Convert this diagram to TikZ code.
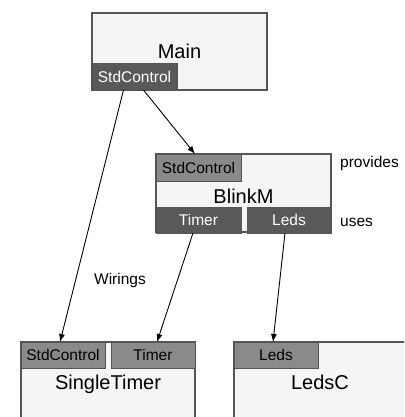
\documentclass[tikz,border=0pt]{standalone}
\usepackage{fontspec}
\setmainfont{Liberation Sans}
\usetikzlibrary{arrows.meta,calc}
\definecolor{boxfill}{HTML}{F5F5F5}
\definecolor{boxline}{HTML}{555555}
\definecolor{darktab}{HTML}{595959}
\definecolor{midtab}{HTML}{8A8A8A}
\begin{document}
\begin{tikzpicture}[x=1pt,y=-1pt,
  comp/.style={draw=boxline,fill=boxfill,line width=1.2pt,rectangle,inner sep=0pt,outer sep=0pt,anchor=north west},
  tabbase/.style={draw=boxline,line width=1pt,inner sep=0pt,outer sep=0pt,anchor=north west,
    minimum width=85pt,minimum height=26pt,text height=11pt,text depth=0pt,font=\fontsize{15.5}{16}\selectfont},
  tabd/.style={tabbase,fill=darktab,text=white},
  tabm/.style={tabbase,fill=midtab,text=black},
  big/.style={anchor=base,inner sep=0pt,font=\fontsize{20}{22}\selectfont},
  small/.style={anchor=base west,inner sep=0pt,font=\fontsize{15.5}{16}\selectfont},
  wire/.style={draw=black,line width=0.9pt,-{Latex[length=8pt,width=6pt]}}
]
\useasboundingbox (0,0) rectangle (404,417);
\clip (0,0) rectangle (404,417);
% Main
\node[comp,minimum width=175pt,minimum height=77pt] (main) at (92,13) {};
\node[tabd] (mainsc) at (92,64) {StdControl};
\node[big] (mainlbl) at (179.5,59) {Main};
% BlinkM
\node[comp,minimum width=175pt,minimum height=78pt] (blink) at (156,154) {};
\node[tabm,minimum height=27pt] (blsc) at (156,154) {StdControl};
\node[tabd] (bltimer) at (156,207) {Timer};
\node[tabd,minimum width=84pt] (blleds) at (247,207) {Leds};
\node[big] (blinklbl) at (243.5,203) {BlinkM};
\node[small] (prov) at (340,167) {provides};
\node[small] (uses) at (340,226) {uses};
% SingleTimer
\node[comp,minimum width=174pt,minimum height=100pt] (st) at (21,342) {};
\node[tabm,minimum width=84pt] (stsc) at (21,342) {StdControl};
\node[tabm,minimum width=84pt] (sttimer) at (111,342) {Timer};
\node[big] (stlbl) at (108,389) {SingleTimer};
% LedsC
\node[comp,minimum width=180pt,minimum height=100pt] (leds) at (234,342) {};
\node[tabm,minimum width=84pt] (ledsleds) at (234,342) {Leds};
\node[big] (ledslbl) at (320,389) {LedsC};
% Wirings
\node[small,anchor=base] (wirlbl) at (120,284) {Wirings};
% connectors
\draw[wire] ([xshift=-11pt]mainsc.south) -- ([xshift=-3pt]stsc.north);
\draw[wire] ([xshift=9pt]mainsc.south) -- ([xshift=-3.5pt]blsc.north);
\draw[wire] ([xshift=-5.5pt]bltimer.south) -- ([xshift=4pt]sttimer.north);
\draw[wire] ([xshift=-4pt]blleds.south) -- ([xshift=-3pt]ledsleds.north);
\end{tikzpicture}
\end{document}
